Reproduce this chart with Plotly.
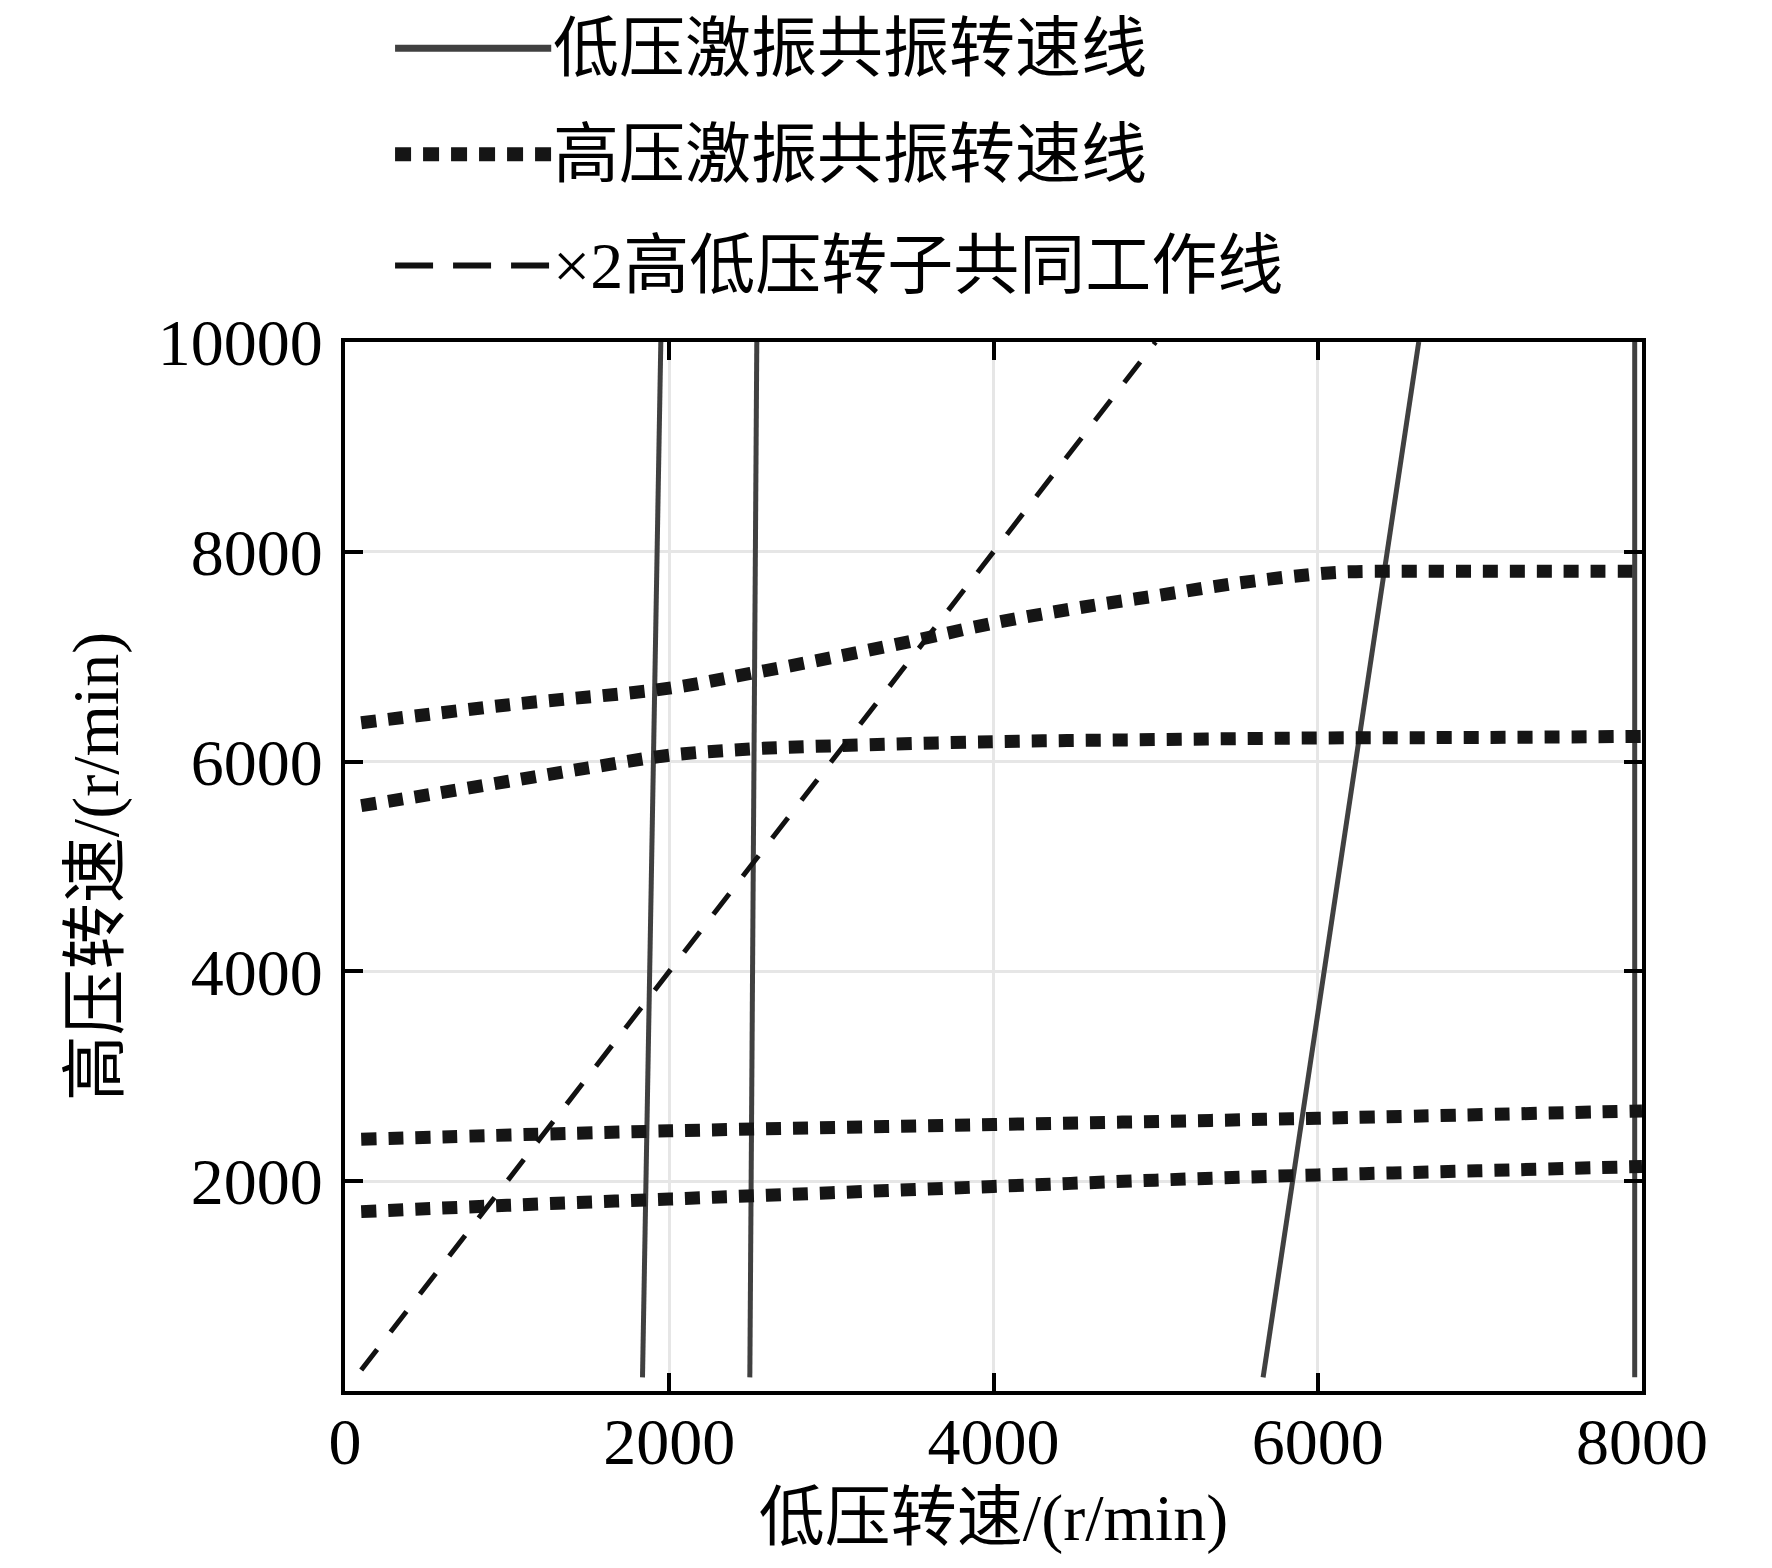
import plotly.graph_objects as go

# 低压激振共振转速线 (每条线: 低压转速, 高压转速)
lp_lines_x = [[1835, 1948], [2497, 2540], [5663, 6623], [7955, 7955]]
lp_lines_y = [[130, 10000], [130, 10000], [130, 10000], [130, 10000]]

# 高压激振共振转速线
hp_a_x = [100, 1000, 2000, 2500, 3000, 3500, 4000, 4500, 5000, 5500, 6000, 6200, 6500, 7000, 7500, 8000]
hp_a_y = [6370, 6540, 6700, 6840, 6990, 7150, 7320, 7460, 7580, 7700, 7790, 7810, 7815, 7815, 7815, 7815]
hp_b_x = [100, 500, 1000, 1500, 2000, 2500, 3000, 4000, 5000, 6000, 7000, 8000]
hp_b_y = [5580, 5680, 5810, 5940, 6060, 6120, 6150, 6190, 6210, 6225, 6230, 6240]
hp_c_x = [100, 2000, 4000, 6000, 8000]
hp_c_y = [2400, 2480, 2540, 2600, 2670]
hp_d_x = [100, 1000, 2000, 3000, 4000, 5000, 6000, 7000, 8000]
hp_d_y = [1710, 1770, 1830, 1890, 1950, 2010, 2060, 2100, 2140]

# ×2 高低压转子共同工作线
work_x = [100, 5000]
work_y = [200, 10000]

x_ticks = [0, 2000, 4000, 6000, 8000]
y_ticks = [2000, 4000, 6000, 8000, 10000]

legend_names = ['低压激振共振转速线', '高压激振共振转速线', '×2高低压转子共同工作线']

FONT = 'Liberation Serif, Noto Sans CJK SC, serif'
SOLID = dict(color='#404040', width=5)
DOTTED = dict(color='#151515', width=13, dash='15px,12px')
DASHED = dict(color='#111111', width=5, dash='26px,22px')

fig = go.Figure()

for xs, ys in zip(lp_lines_x, lp_lines_y):
    fig.add_trace(go.Scatter(x=xs, y=ys, mode='lines', line=SOLID,
                             name=legend_names[0], showlegend=False))

for xs, ys in [(hp_a_x, hp_a_y), (hp_b_x, hp_b_y), (hp_c_x, hp_c_y), (hp_d_x, hp_d_y)]:
    fig.add_trace(go.Scatter(x=xs, y=ys, mode='lines', line=DOTTED, line_shape='spline',
                             name=legend_names[1], showlegend=False))

fig.add_trace(go.Scatter(x=work_x, y=work_y, mode='lines', line=DASHED,
                         name=legend_names[2], showlegend=False))

# 图例 (手工绘制, 线段较长)
legend_y = [1.280, 1.179, 1.073]
legend_styles = [dict(color='#404040', width=7),
                 dict(color='#151515', width=14, dash='16px,12px'),
                 dict(color='#111111', width=6, dash='38px,20px')]
for name, ly, style in zip(legend_names, legend_y, legend_styles):
    fig.add_shape(type='line', xref='paper', yref='paper',
                  x0=0.0386, x1=0.159, y0=ly, y1=ly, line=style)
    fig.add_annotation(x=0.159, y=ly, xref='paper', yref='paper', text=name,
                       showarrow=False, xanchor='left', yanchor='middle',
                       font=dict(family=FONT, size=66, color='black'))

axis_common = dict(
    showline=True, linecolor='black', linewidth=4, mirror='ticks',
    ticks='inside', ticklen=18, tickwidth=4, tickcolor='black',
    showgrid=True, gridcolor='#e6e6e6', gridwidth=3, zeroline=False,
    tickfont=dict(family=FONT, size=66, color='black'),
)

fig.update_xaxes(range=[0, 8000], tickvals=x_ticks, ticktext=[str(v) for v in x_ticks],
                 title=dict(text='低压转速/(r/min)', font=dict(family=FONT, size=66, color='black'),
                            standoff=18),
                 ticklabelstandoff=-10, **axis_common)
fig.update_yaxes(range=[0, 10000], tickvals=y_ticks, ticktext=[str(v) for v in y_ticks],
                 title=dict(text='高压转速/(r/min)', font=dict(family=FONT, size=66, color='black'),
                            standoff=19),
                 ticklabelstandoff=5, **axis_common)

fig.update_layout(
    width=1772, height=1568,
    margin=dict(l=337, r=138, t=334, b=185),
    plot_bgcolor='white', paper_bgcolor='white',
    showlegend=False,
)

fig.write_html('out.html')
